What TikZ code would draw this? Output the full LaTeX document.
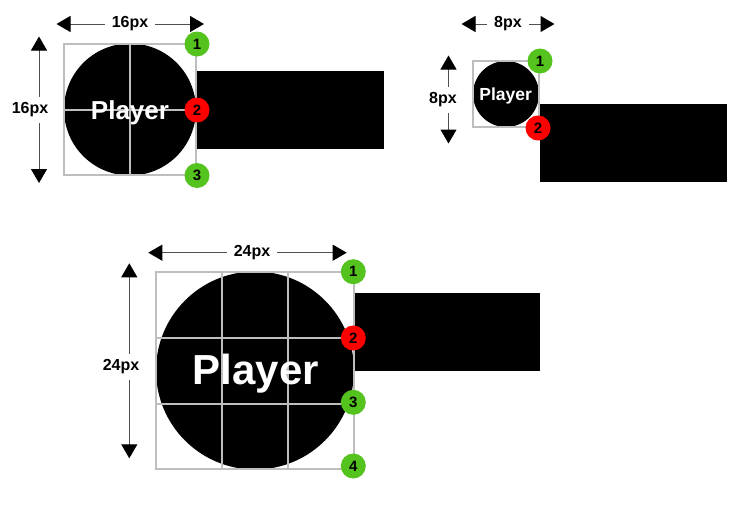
\documentclass[tikz,border=0pt]{standalone}
\usepackage{fontspec}
\setmainfont{Liberation Sans}[BoldFont={Liberation Sans Bold}]
\usetikzlibrary{arrows.meta}
\definecolor{gridgray}{RGB}{190,190,190}
\definecolor{dimgray}{RGB}{80,80,80}
\definecolor{okgreen}{RGB}{85,195,30}
\definecolor{badred}{RGB}{255,0,0}
\tikzset{
  ball/.style={circle, fill=black, inner sep=0pt},
  blackrect/.style={rectangle, fill=black, inner sep=0pt, anchor=north west},
  frame/.style={draw=gridgray, line width=2pt},
  gridline/.style={draw=gridgray, line width=2pt},
  ptext/.style={text=white, inner sep=0pt, anchor=base},
  badge/.style={circle, inner sep=0pt, minimum size=25pt, font=\bfseries\fontsize{15}{15}\selectfont, text=black},
  gbadge/.style={badge, fill=okgreen},
  rbadge/.style={badge, fill=badred},
  dimline/.style={draw=dimgray, line width=1pt, {Triangle[length=14pt,width=16pt,color=black]}-{Triangle[length=14pt,width=16pt,color=black]}},
  dimlabel/.style={fill=white, inner xsep=7pt, inner ysep=6pt, font=\bfseries\fontsize{16}{16}\selectfont}
}
\begin{document}
\begin{tikzpicture}[x=1pt,y=-1pt]
\useasboundingbox[fill=white] (0,0) rectangle (752,506);

% ---------- Diagram 1 (16px) ----------
\node[ball, minimum size=132pt] (c1) at (130,109.5) {};
\coordinate (g1t) at (130,43.5); \coordinate (g1b) at (130,175);
\coordinate (g1l) at (63.5,109.5); \coordinate (g1r) at (196,109.5);
\draw[gridline] (g1t) -- (g1b);
\draw[gridline] (g1l) -- (g1r);
\coordinate (f1a) at (63.5,43.5); \coordinate (f1b) at (196,175);
\draw[frame] (f1a) rectangle (f1b);
\node[ptext, font=\bfseries\fontsize{26}{26}\selectfont] (p1) at (130,119) {Player};
\node[blackrect, minimum width=187pt, minimum height=78pt] (r1) at (197,71) {};
\node[gbadge] (b11) at (197,44) {1};
\node[rbadge] (b12) at (197,110) {2};
\node[gbadge] (b13) at (197,175.5) {3};
\coordinate (h1s) at (56.5,24); \coordinate (h1e) at (204,24);
\draw[dimline] (h1s) -- (h1e);
\node[dimlabel] (h1l) at (130,24) {16px};
\coordinate (v1s) at (39,36.5); \coordinate (v1e) at (39,183);
\draw[dimline] (v1s) -- (v1e);
\node[dimlabel] (v1l) at (30,110) {16px};

% ---------- Diagram 2 (8px) ----------
\node[ball, minimum size=66pt] (c2) at (506,94) {};
\coordinate (f2a) at (473,61); \coordinate (f2b) at (539,127);
\draw[frame] (f2a) rectangle (f2b);
\node[ptext, font=\bfseries\fontsize{17.5}{17.5}\selectfont] (p2) at (505.7,100.7) {Player};
\node[blackrect, minimum width=187pt, minimum height=78pt] (r2) at (540,104) {};
\node[gbadge] (b21) at (540,61) {1};
\node[rbadge] (b22) at (538,128) {2};
\coordinate (h2s) at (461.5,24); \coordinate (h2e) at (554.5,24);
\draw[dimline] (h2s) -- (h2e);
\node[dimlabel] (h2l) at (508,24) {8px};
\coordinate (v2s) at (448.5,55.5); \coordinate (v2e) at (448.5,143.5);
\draw[dimline] (v2s) -- (v2e);
\node[dimlabel] (v2l) at (443,100) {8px};

% ---------- Diagram 3 (24px) ----------
\node[ball, minimum size=198pt] (c3) at (255,370.5) {};
\foreach \x/\n in {222/a,288/b}{
  \coordinate (g3t\n) at (\x,271.7); \coordinate (g3b\n) at (\x,469.3);
  \draw[gridline] (g3t\n) -- (g3b\n);
}
\foreach \y/\n in {338/a,404/b}{
  \coordinate (g3l\n) at (155.7,\y); \coordinate (g3r\n) at (354.3,\y);
  \draw[gridline] (g3l\n) -- (g3r\n);
}
\coordinate (f3a) at (155.7,271.7); \coordinate (f3b) at (354.3,469.3);
\draw[frame] (f3a) rectangle (f3b);
\node[ptext, font=\bfseries\fontsize{42}{42}\selectfont] (p3) at (255.8,384) {Player};
\node[blackrect, minimum width=185pt, minimum height=78pt] (r3) at (355,293) {};
\node[gbadge] (b31) at (353.3,271.7) {1};
\node[rbadge] (b32) at (353.3,338) {2};
\node[gbadge] (b33) at (353.3,402.3) {3};
\node[gbadge] (b34) at (353.3,466) {4};
\coordinate (h3s) at (148.3,252.7); \coordinate (h3e) at (346.7,252.7);
\draw[dimline] (h3s) -- (h3e);
\node[dimlabel] (h3l) at (252,252.7) {24px};
\coordinate (v3s) at (129.3,263.3); \coordinate (v3e) at (129.3,458.3);
\draw[dimline] (v3s) -- (v3e);
\node[dimlabel] (v3l) at (121,367) {24px};
\end{tikzpicture}
\end{document}
